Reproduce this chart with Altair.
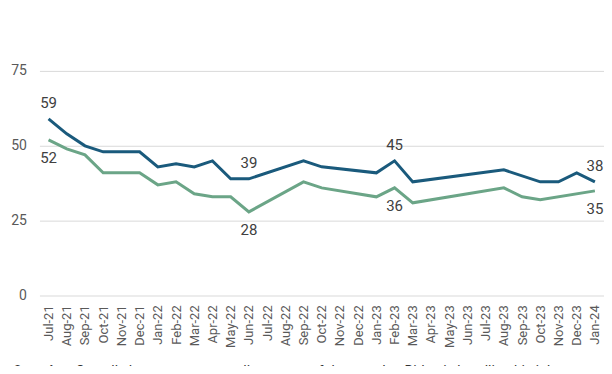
import altair as alt
import pandas as pd

months = ["Jul-21", "Aug-21", "Sep-21", "Oct-21", "Nov-21", "Dec-21", "Jan-22", "Feb-22",
          "Mar-22", "Apr-22", "May-22", "Jun-22", "Jul-22", "Aug-22", "Sep-22", "Oct-22",
          "Nov-22", "Dec-22", "Jan-23", "Feb-23", "Mar-23", "Apr-23", "May-23", "Jun-23",
          "Jul-23", "Aug-23", "Sep-23", "Oct-23", "Nov-23", "Dec-23", "Jan-24"]

series_a = [59, 54, 50, 48, 48, 48, 43, 44, 43, 45, 39, 39, None, None, 45, 43,
            None, None, 41, 45, 38, None, None, None, None, 42, None, 38, 38, 41, 38]
series_b = [52, 49, 47, 41, 41, 41, 37, 38, 34, 33, 33, 28, None, None, 38, 36,
            None, None, 33, 36, 31, None, None, None, None, 36, 33, 32, None, None, 35]

label_months = ["Jul-21", "Jun-22", "Feb-23", "Jan-24"]
yticks = [0, 25, 50, 75]
question_bold = "Questions:"
question_text = "Overall, do you approve or disapprove of the way Joe Biden is handling his job as"

rows = []
for name, vals in [("A", series_a), ("B", series_b)]:
    for m, v in zip(months, vals):
        if v is not None:
            rows.append({"month": m, "value": v, "series": name})
df = pd.DataFrame(rows)

lab = df[df["month"].isin(label_months)].copy()
lab["label"] = lab["value"].astype(int).astype(str)

blue = "#1a5a7c"
green = "#6ba587"

x = alt.X("month:N", sort=months,
          scale=alt.Scale(domain=months, type="point", padding=0.5),
          axis=alt.Axis(title=None, labelAngle=-90, labelAlign="right", labelBaseline="middle",
                        labelFont="Roboto", labelFontSize=13, labelColor="#595959",
                        ticks=False, domain=False, labelPadding=9, grid=False))
y = alt.Y("value:Q", scale=alt.Scale(domain=[0, 75]),
          axis=alt.Axis(title=None, values=yticks, labelFont="Roboto", labelFontSize=14,
                        labelColor="#595959", ticks=False, domain=False, labelPadding=13,
                        grid=True, gridColor="#d9d9d9", gridWidth=1))

lines = alt.Chart(df).mark_line(strokeWidth=3, strokeJoin="miter").encode(
    x=x, y=y,
    color=alt.Color("series:N", scale=alt.Scale(domain=["A", "B"], range=[blue, green]), legend=None),
)

above = alt.Chart(lab[lab["series"] == "A"]).mark_text(
    dy=-16, font="Roboto", fontSize=15, color="#404040", baseline="middle"
).encode(x=x, y=y, text="label:N")
below = alt.Chart(lab[lab["series"] == "B"]).mark_text(
    dy=18, font="Roboto", fontSize=15, color="#404040", baseline="middle"
).encode(x=x, y=y, text="label:N")

qdf = pd.DataFrame({"b": [question_bold], "t": [question_text]})
qbold = alt.Chart(qdf).mark_text(
    font="Roboto", fontSize=14, fontWeight="bold", color="#333333", align="left", baseline="alphabetic"
).encode(x=alt.value(-26.8), y=alt.value(305.5), text="b:N")
qtext = alt.Chart(qdf).mark_text(
    font="Roboto", fontSize=14, color="#333333", align="left", baseline="alphabetic"
).encode(x=alt.value(36.2), y=alt.value(305.5), text="t:N")

chart = alt.layer(lines, above, below, qbold, qtext).properties(
    width=565.5, height=225.3,
    autosize=alt.AutoSizeParams(type="none"),
    padding={"left": 31.5, "top": 62.7, "right": 0, "bottom": 70},
    background="white",
).configure_view(stroke=None)

chart.save("out.html", embed_options={"renderer": "svg", "actions": False})
